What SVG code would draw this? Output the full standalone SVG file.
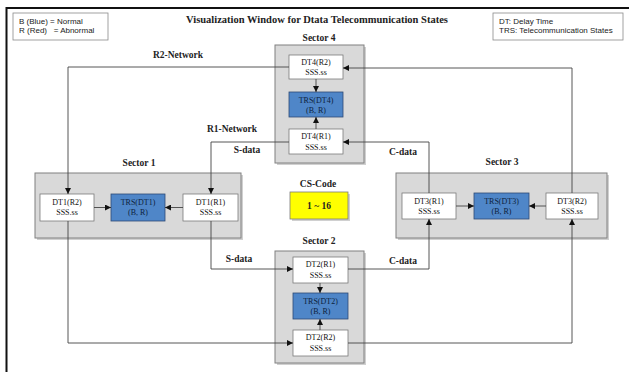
<svg xmlns="http://www.w3.org/2000/svg" width="629" height="372" viewBox="0 0 629 372">
<style>
.lbl{font-family:"Liberation Serif","Times New Roman",serif;font-weight:bold;font-size:9.5px;fill:#222;text-anchor:middle}
.title{font-family:"Liberation Serif","Times New Roman",serif;font-weight:bold;font-size:10.5px;fill:#222;text-anchor:middle}
.bt{font-family:"Liberation Serif","Times New Roman",serif;font-size:8px;fill:#111;text-anchor:middle}
.tt{font-family:"Liberation Serif","Times New Roman",serif;font-size:8px;fill:#0d1f3c;text-anchor:middle}
.leg{font-family:"Liberation Sans",Arial,sans-serif;font-size:8px;fill:#222}
.sector{fill:#d9d9d9;stroke:#808080;stroke-width:1}
.shadow{fill:#b0b0b0;opacity:0.6}
.dt{fill:#fff;stroke:#7a7a7a;stroke-width:0.8}
.trs{fill:#4f86c8;stroke:#2e4a75;stroke-width:0.8}
.legbox{fill:#fff;stroke:#8a8a8a;stroke-width:0.8}
.conn{fill:none;stroke:#444;stroke-width:0.9}
</style>
<defs>
<marker id="ah" viewBox="0 0 10 10" refX="10" refY="5" markerWidth="6" markerHeight="6" orient="auto" markerUnits="userSpaceOnUse">
<path d="M0,0 L10,5 L0,10 z" fill="#111"/>
</marker>
</defs>
<rect x="0" y="0" width="629" height="372" fill="#fff"/>
<path d="M6.5,372 V8 H629" fill="none" stroke="#111" stroke-width="2"/>

<g id="legend-left">
<rect class="legbox" x="13" y="13" width="95" height="27"/>
<text class="leg" x="19" y="24">B (Blue)  = Normal</text>
<text class="leg" x="19" y="33" xml:space="preserve">R (Red)   = Abnormal</text>
</g>
<g id="legend-right">
<rect class="legbox" x="493" y="13" width="130" height="27"/>
<text class="leg" x="499" y="24">DT: Delay Time</text>
<text class="leg" x="499" y="33">TRS: Telecommunication States</text>
</g>
<g id="title"><text class="title" x="317" y="23">Visualization Window for Dtata Telecommunication States</text></g>

<g id="sector4">
<text class="lbl" x="319" y="41">Sector 4</text>
<rect class="shadow" x="277" y="47" width="89" height="118"/>
<rect class="sector" x="275" y="45" width="89" height="118"/>
<g id="dt4r2"><rect class="dt" x="289" y="55" width="54" height="24"/><text class="bt" x="316" y="65">DT4(R2)</text><text class="bt" x="316" y="75">SSS.ss</text></g>
<g id="trs4"><rect class="trs" x="289" y="92" width="54" height="25"/><text class="tt" x="316" y="103">TRS(DT4)</text><text class="tt" x="316" y="113">(B, R)</text></g>
<g id="dt4r1"><rect class="dt" x="289" y="129" width="54" height="25"/><text class="bt" x="316" y="139">DT4(R1)</text><text class="bt" x="316" y="150">SSS.ss</text></g>
</g>

<g id="sector1">
<text class="lbl" x="139" y="166">Sector 1</text>
<rect class="shadow" x="37" y="175" width="206" height="65"/>
<rect class="sector" x="35" y="173" width="206" height="65"/>
<g id="dt1r2"><rect class="dt" x="40" y="194" width="54" height="27"/><text class="bt" x="67" y="205">DT1(R2)</text><text class="bt" x="67" y="215">SSS.ss</text></g>
<g id="trs1"><rect class="trs" x="111" y="194" width="54" height="27"/><text class="tt" x="138" y="205">TRS(DT1)</text><text class="tt" x="138" y="215">(B, R)</text></g>
<g id="dt1r1"><rect class="dt" x="183" y="194" width="55" height="27"/><text class="bt" x="210.5" y="205">DT1(R1)</text><text class="bt" x="210.5" y="215">SSS.ss</text></g>
</g>

<g id="sector3">
<text class="lbl" x="502" y="165">Sector 3</text>
<rect class="shadow" x="398" y="175" width="211" height="65"/>
<rect class="sector" x="396" y="173" width="211" height="65"/>
<g id="dt3r1"><rect class="dt" x="402" y="193" width="54" height="26"/><text class="bt" x="429" y="204">DT3(R1)</text><text class="bt" x="429" y="214">SSS.ss</text></g>
<g id="trs3"><rect class="trs" x="474" y="193" width="55" height="26"/><text class="tt" x="501.5" y="204">TRS(DT3)</text><text class="tt" x="501.5" y="214">(B, R)</text></g>
<g id="dt3r2"><rect class="dt" x="546" y="193" width="52" height="26"/><text class="bt" x="572" y="204">DT3(R2)</text><text class="bt" x="572" y="214">SSS.ss</text></g>
</g>

<g id="cscode">
<text class="lbl" x="318" y="187">CS-Code</text>
<rect class="shadow" x="292" y="194" width="58" height="27"/>
<rect x="290" y="192" width="58" height="27" fill="#ffff00" stroke="#7a7a7a" stroke-width="0.8"/>
<text class="lbl" x="319" y="209">1 ~ 16</text>
</g>

<g id="sector2">
<text class="lbl" x="319" y="244">Sector 2</text>
<rect class="shadow" x="277" y="253" width="89" height="112"/>
<rect class="sector" x="275" y="251" width="89" height="112"/>
<g id="dt2r1"><rect class="dt" x="293" y="257" width="55" height="26"/><text class="bt" x="320.5" y="267">DT2(R1)</text><text class="bt" x="320.5" y="278">SSS.ss</text></g>
<g id="trs2"><rect class="trs" x="293" y="293" width="55" height="26"/><text class="tt" x="320.5" y="304">TRS(DT2)</text><text class="tt" x="320.5" y="314">(B, R)</text></g>
<g id="dt2r2"><rect class="dt" x="293" y="330" width="55" height="26"/><text class="bt" x="320.5" y="340">DT2(R2)</text><text class="bt" x="320.5" y="351">SSS.ss</text></g>
</g>

<g id="connectors">
<path class="conn" d="M289,67 H68 V194" marker-end="url(#ah)"/>
<path class="conn" d="M289,142 H211 V194" marker-end="url(#ah)"/>
<path class="conn" d="M429,193 V142 H343" marker-end="url(#ah)"/>
<path class="conn" d="M572,193 V68 H343" marker-end="url(#ah)"/>
<path class="conn" d="M94,207.5 H111" marker-end="url(#ah)"/>
<path class="conn" d="M183,207.5 H165" marker-end="url(#ah)"/>
<path class="conn" d="M456,206 H474" marker-end="url(#ah)"/>
<path class="conn" d="M546,206 H529" marker-end="url(#ah)"/>
<path class="conn" d="M316,79 V92" marker-end="url(#ah)"/>
<path class="conn" d="M316,129 V117" marker-end="url(#ah)"/>
<path class="conn" d="M320,283 V293" marker-end="url(#ah)"/>
<path class="conn" d="M320,330 V319" marker-end="url(#ah)"/>
<path class="conn" d="M211,221 V269 H293" marker-end="url(#ah)"/>
<path class="conn" d="M348,269 H429 V219" marker-end="url(#ah)"/>
<path class="conn" d="M68,221 V343 H293" marker-end="url(#ah)"/>
<path class="conn" d="M348,343 H572 V219" marker-end="url(#ah)"/>
<text class="lbl" x="178" y="58">R2-Network</text>
<text class="lbl" x="232" y="132">R1-Network</text>
<text class="lbl" x="247" y="153">S-data</text>
<text class="lbl" x="403" y="155">C-data</text>
<text class="lbl" x="239" y="262">S-data</text>
<text class="lbl" x="403" y="264">C-data</text>
</g>
</svg>
